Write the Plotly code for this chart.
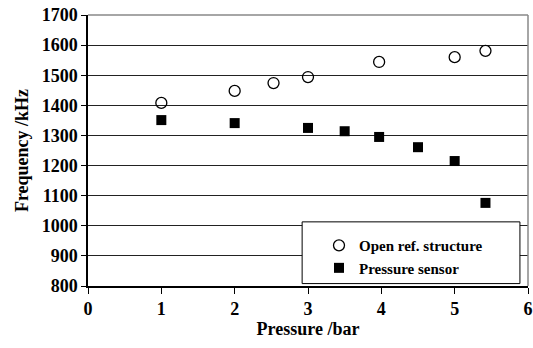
import plotly.graph_objects as go

open_x = [1.0, 2.0, 2.53, 3.0, 3.97, 5.0, 5.42]
open_y = [1408, 1448, 1474, 1494, 1544, 1560, 1581]
sens_x = [1.0, 2.0, 3.0, 3.5, 3.97, 4.5, 5.0, 5.42]
sens_y = [1351, 1341, 1325, 1314, 1295, 1261, 1215, 1076]

x_ticks = [0, 1, 2, 3, 4, 5, 6]
y_ticks = [800, 900, 1000, 1100, 1200, 1300, 1400, 1500, 1600, 1700]

font = "Liberation Serif, Times New Roman, serif"

fig = go.Figure()
fig.add_trace(go.Scatter(x=open_x, y=open_y, mode="markers", name="Open ref. structure",
                         marker=dict(symbol="circle-open", size=11, color="black", line=dict(width=1.3, color="black"))))
fig.add_trace(go.Scatter(x=sens_x, y=sens_y, mode="markers", name="Pressure sensor",
                         marker=dict(symbol="square", size=10, color="black")))

fig.add_shape(type="rect", xref="x", yref="y", x0=2.92, x1=5.89, y0=808, y1=1013,
              line=dict(color="black", width=1), fillcolor="white", layer="above")

fig.update_layout(
    width=533, height=348,
    margin=dict(l=88, r=5, t=15, b=62, autoexpand=False),
    paper_bgcolor="white", plot_bgcolor="white",
    font=dict(family=font, size=15, color="black"),
    showlegend=True,
    legend=dict(x=0.525, y=0.21, xanchor="left", yanchor="top",
                bgcolor="rgba(0,0,0,0)", borderwidth=0,
                font=dict(family=font, size=15, color="black", weight="bold"),
                tracegroupgap=8, itemwidth=30),
    xaxis=dict(range=[0, 6], tickvals=x_ticks, ticks="outside", ticklen=6, tickcolor="black",
               showline=True, linecolor="black", linewidth=1.5, showgrid=False, zeroline=False,
               mirror=False, tickfont=dict(family=font, size=18, weight="bold"),
               title=dict(text="Pressure /bar", font=dict(family=font, size=18, weight="bold"), standoff=4)),
    yaxis=dict(range=[800, 1700], tickvals=y_ticks, ticks="outside", ticklen=5, tickcolor="black",
               showline=True, linecolor="black", linewidth=1.5, showgrid=True, gridcolor="#222222",
               gridwidth=1, zeroline=False, tickfont=dict(family=font, size=18, weight="bold"),
               title=dict(text="Frequency /kHz", font=dict(family=font, size=18, weight="bold"), standoff=8)),
)
# right and top border in gray
fig.add_shape(type="line", xref="paper", yref="paper", x0=1, x1=1, y0=0, y1=1,
              line=dict(color="#888888", width=1.5))
fig.add_shape(type="line", xref="paper", yref="paper", x0=0, x1=1, y0=1, y1=1,
              line=dict(color="#888888", width=1.5))

fig.write_html("out.html", config={"displayModeBar": False},
               post_script="document.body.style.margin='0';")
